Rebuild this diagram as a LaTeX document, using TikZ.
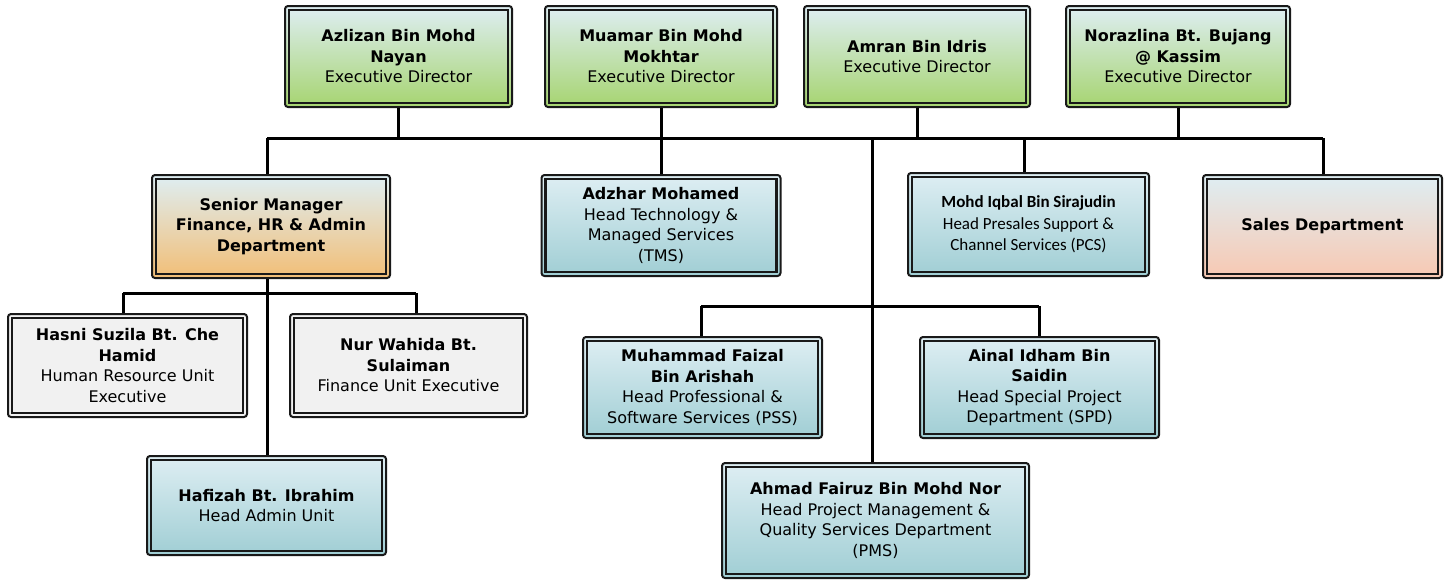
\documentclass[tikz,border=0pt]{standalone}
\usepackage{fontspec}
\newfontfamily\dvfont{DejaVu Sans}
\newfontfamily\calfont{Carlito}
\definecolor{topc}{RGB}{222,238,243}
\definecolor{greenb}{RGB}{166,212,112}
\definecolor{orangeb}{RGB}{242,190,118}
\definecolor{blueb}{RGB}{160,206,212}
\definecolor{peachb}{RGB}{248,200,178}
\definecolor{grayf}{RGB}{241,241,241}
\definecolor{edge}{RGB}{25,25,25}
\begin{document}
\begin{tikzpicture}[x=1pt,y=-1pt,
  box/.style={rectangle, rounded corners=3pt, draw=edge, line width=2pt, inner sep=0pt,
    align=center, font=\dvfont\fontsize{16}{20.5}\selectfont},
  green/.style={box, top color=topc, bottom color=greenb},
  orange/.style={box, top color=topc, bottom color=orangeb},
  blue/.style={box, top color=topc, bottom color=blueb},
  peach/.style={box, top color=topc, bottom color=peachb},
  grey/.style={box, fill=grayf},
  innerline/.style={draw=edge, line width=2.7pt},
  conn/.style={draw=black, line width=3pt}]
\useasboundingbox (0,0) rectangle (1448,582);

% coordinates for connector junctions
\coordinate (b1) at (267,138);
\coordinate (b2) at (1323,138);
\coordinate (bp) at (872,138);
\coordinate (bi) at (1024,138);
\coordinate (c1) at (701,306);
\coordinate (c2) at (1039,306);
\coordinate (s0) at (267,293);
\coordinate (s1) at (123,293);
\coordinate (s2) at (416,293);

% nodes
\node[green, minimum width=227, minimum height=101] (az) at (398.5,56.5)
  {\textbf{Azlizan Bin Mohd}\\\textbf{Nayan}\\Executive Director};
\node[green, minimum width=232, minimum height=101] (mu) at (661,56.5)
  {\textbf{Muamar Bin Mohd}\\\textbf{Mokhtar}\\Executive Director};
\node[green, minimum width=226, minimum height=101] (am) at (917,56.5)
  {\textbf{Amran Bin Idris}\\Executive Director};
\node[green, minimum width=224, minimum height=101] (no) at (1178,56.5)
  {\textbf{Norazlina Bt. Bujang}\\\textbf{@ Kassim}\\Executive Director};

\node[orange, minimum width=238, minimum height=103] (sm) at (271,226.5)
  {\textbf{Senior Manager}\\\textbf{Finance, HR \& Admin}\\\textbf{Department}};
\node[blue, minimum width=239, minimum height=101] (ad) at (661,225.5)
  {\textbf{Adzhar Mohamed}\\Head Technology \&\\Managed Services\\(TMS)};
\node[blue, minimum width=241, minimum height=103, font=\calfont\fontsize{17}{21.5}\selectfont] (iq) at (1028.5,224.5)
  {\textbf{Mohd Iqbal Bin Sirajudin}\\Head Presales Support \&\\Channel Services (PCS)};
\node[peach, minimum width=239, minimum height=103] (sa) at (1322.5,226.5)
  {\textbf{Sales Department}};

\node[grey, minimum width=239, minimum height=103] (ha) at (127.5,365.5)
  {\textbf{Hasni Suzila Bt. Che}\\\textbf{Hamid}\\Human Resource Unit\\Executive};
\node[grey, minimum width=237, minimum height=103] (nw) at (408.5,365.5)
  {\textbf{Nur Wahida Bt.}\\\textbf{Sulaiman}\\Finance Unit Executive};
\node[blue, minimum width=239, minimum height=99] (hf) at (266.5,505.5)
  {\textbf{Hafizah Bt. Ibrahim}\\Head Admin Unit};

\node[blue, minimum width=239, minimum height=101] (pf) at (702.5,387.5)
  {\textbf{Muhammad Faizal}\\\textbf{Bin Arishah}\\Head Professional \&\\Software Services (PSS)};
\node[blue, minimum width=239, minimum height=101] (ai) at (1039.5,387.5)
  {\textbf{Ainal Idham Bin}\\\textbf{Saidin}\\Head Special Project\\Department (SPD)};
\node[blue, minimum width=307, minimum height=115] (pm) at (875.5,520.5)
  {\textbf{Ahmad Fairuz Bin Mohd Nor}\\Head Project Management \&\\Quality Services Department\\(PMS)};

% inner borders
\foreach \n in {az,mu,am,no,sm,ad,iq,sa,ha,nw,hf,pf,ai,pm}
  \draw[innerline] ([shift={(5,5)}]\n.north west) rectangle ([shift={(-5,-5)}]\n.south east);

% connectors
\draw[conn] (az.south) -- (az.south |- b1);
\draw[conn] (mu.south) -- (ad.north);
\draw[conn] (am.south) -- (am.south |- b1);
\draw[conn] (no.south) -- (no.south |- b1);
\draw[conn] (b1) -- (b2);
\draw[conn] (b1) -- (b1 |- sm.north);
\draw[conn] (b2) -- (b2 |- sa.north);
\draw[conn] (bi) -- (bi |- iq.north);
\draw[conn] (bp) -- (bp |- pm.north);
\draw[conn] (c1) -- (c2);
\draw[conn] (c1) -- (c1 |- pf.north);
\draw[conn] (c2) -- (c2 |- ai.north);
\draw[conn] (s0 |- sm.south) -- (s0 |- hf.north);
\draw[conn] (s1) -- (s2);
\draw[conn] (s1) -- (s1 |- ha.north);
\draw[conn] (s2) -- (s2 |- nw.north);
\end{tikzpicture}
\end{document}
